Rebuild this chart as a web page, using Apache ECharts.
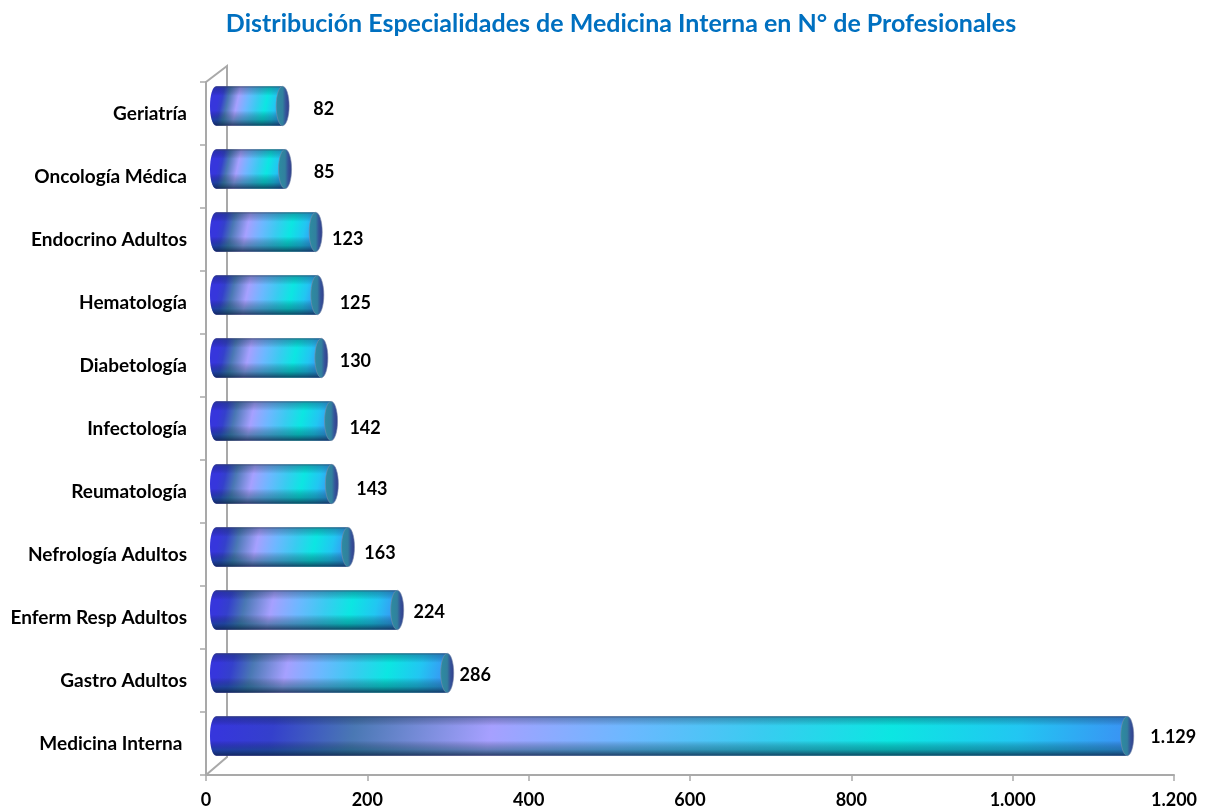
<!DOCTYPE html>
<html><head><meta charset="utf-8">
<style>html,body{margin:0;padding:0;background:#fff}#c{width:1207px;height:809px}</style>
<script src="https://cdn.jsdelivr.net/npm/echarts@6/dist/echarts.min.js"></script>
</head><body><div id="c"></div>
<script>
const categories = ['Medicina Interna ','Gastro Adultos','Enferm Resp Adultos','Nefrología Adultos','Reumatología','Infectología','Diabetología','Hematología','Endocrino Adultos','Oncología Médica','Geriatría'];
const values = [1129,286,224,163,143,142,130,125,123,85,82];
const labelDx = [46,28,32,32,40,34,34,38,32,39,41];
const labelDy = [1,2,2,6,5,7,3,8,7,3,3];
const FONT = 'Lato, Carlito, Calibri, sans-serif';
const DEPTH_X = 10.5, DEPTH_Y = -7.5;
const TILT = 0.22;
const chart = echarts.init(document.getElementById('c'), null, {renderer:'canvas'});
const grey = '#a9a9a9';
const stops = a=>a.map(s=>({offset:s[0],color:s[1]}));
const bodyStops = stops([[0,'#3636dc'],[0.06,'#3440cc'],[0.15,'#4a78b4'],[0.3,'#a6a0ff'],[0.45,'#6cb8ff'],[0.6,'#38ccf0'],[0.74,'#0ce6e2'],[0.88,'#22c6f2'],[1,'#3a92f4']]);
const shade = {type:'linear',x:0,y:0,x2:0,y2:1,colorStops:stops([[0,'rgba(60,70,100,0.75)'],[0.05,'rgba(15,40,70,0.3)'],[0.24,'rgba(0,0,0,0)'],[0.62,'rgba(0,0,0,0)'],[0.84,'rgba(0,70,80,0.38)'],[0.97,'rgba(10,40,70,0.72)'],[1,'rgba(30,40,70,0.8)']])};
const endCap = {type:'linear',x:0,y:0,x2:1,y2:0,colorStops:stops([[0,'#2c8da0'],[0.5,'#31809e'],[0.72,'#34559a'],[1,'#333a88']])};
function renderItem(params, api){
  const i = api.value(0);
  const a = api.coord([0,i]), b = api.coord([api.value(1),i]);
  const h = api.size([0,1])[1]*0.625, ry = h/2, rx = 6.5;
  const x0 = a[0]+DEPTH_X, x1 = b[0]+DEPTH_X, cy = a[1]+DEPTH_Y;
  const L = x1-x0, w = L+rx;
  const d = 'M'+x0+' '+(cy-ry)+'L'+x1+' '+(cy-ry)+'L'+x1+' '+(cy+ry)+'L'+x0+' '+(cy+ry)+
    'C'+(x0-rx*1.33)+' '+(cy+ry)+' '+(x0-rx*1.33)+' '+(cy-ry)+' '+x0+' '+(cy-ry)+'Z';
  const shapeBox = {pathData:d,x:x0-rx,y:cy-ry,width:w,height:h,layout:'cover'};
  const dx = L/(1+TILT*TILT), dy = dx*TILT;
  const fill = {type:'linear',x:rx/w,y:0.5,x2:(rx+dx)/w,y2:0.5+dy/h,colorStops:bodyStops};
  return {type:'group',children:[
    {type:'path',shape:shapeBox,style:{fill}},
    {type:'path',shape:shapeBox,style:{fill:shade}},
    {type:'ellipse',shape:{cx:x1,cy,rx,ry},style:{fill:endCap,stroke:'rgba(120,140,170,0.6)',lineWidth:1}},
    {type:'text',style:{x:x1+labelDx[i],y:cy+labelDy[i],text:api.value(2),align:'center',verticalAlign:'middle',fill:'#000',font:'bold 18px '+FONT}}
  ]};
}
chart.setOption({
  animation:false,
  backgroundColor:'#fff',
  title:{text:'Distribución Especialidades de Medicina Interna en N° de Profesionales',left:616,top:6,textAlign:'center',
    textStyle:{color:'#0070c0',fontFamily:FONT,fontWeight:'bold',fontSize:25}},
  grid:{left:206,right:33,top:82,bottom:34},
  xAxis:{type:'value',min:0,max:1200,interval:200,splitLine:{show:false},
    axisLine:{show:true,lineStyle:{color:grey,width:2}},
    axisTick:{show:true,length:6,lineStyle:{color:grey,width:1.5}},
    axisLabel:{color:'#000',fontFamily:FONT,fontWeight:'bold',fontSize:18,margin:16,hideOverlap:false,
      formatter:v=>String(v).replace(/\B(?=(\d{3})+$)/,'.')}},
  yAxis:{type:'category',data:categories,boundaryGap:true,splitLine:{show:false},
    axisLine:{show:true,onZero:false,lineStyle:{color:grey,width:2}},
    axisTick:{show:true,length:6,alignWithLabel:false,lineStyle:{color:grey,width:1.5}},
    axisLabel:{color:'#000',fontFamily:FONT,fontWeight:'bold',fontSize:19,margin:19,interval:0,padding:[3,0,0,0]}},
  graphic:[
    {type:'polyline',z:0,silent:true,shape:{points:[[206,82],[227,66],[227,757],[206,775]]},style:{fill:'none',stroke:grey,lineWidth:2}}
  ],
  series:[{type:'custom',renderItem,clip:false,z:5,
    encode:{x:1,y:0},
    data:values.map((v,i)=>[i,v,v.toLocaleString('de-DE')])}]
});
</script></body></html>
